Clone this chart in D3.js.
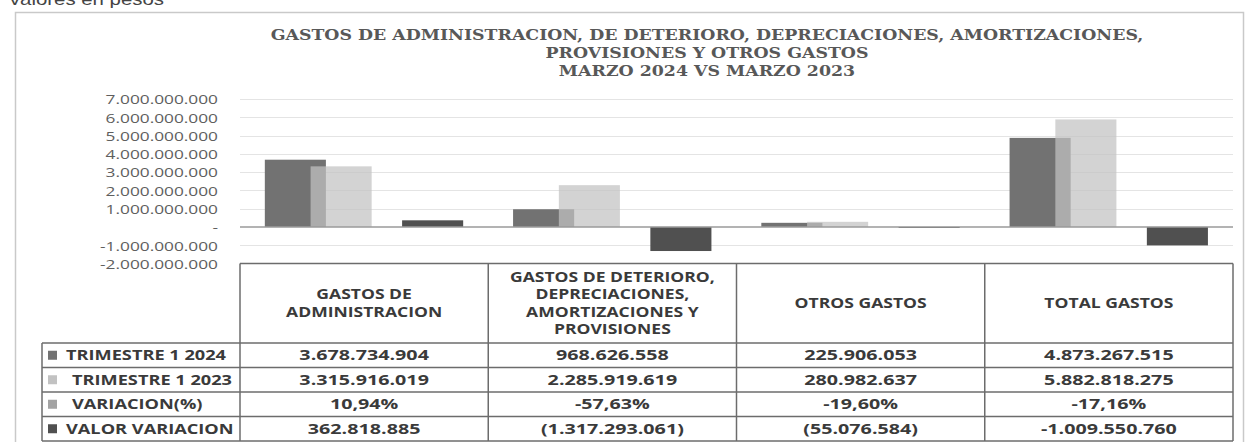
<!DOCTYPE html>
<html>
<head>
<meta charset="utf-8">
<script src="https://cdn.jsdelivr.net/npm/d3@7"></script>
<style>
  html, body { margin: 0; padding: 0; background: #fff; }
  svg { display: block; }
</style>
</head>
<body>
<div id="chart"></div>
<script>
'use strict';

// categories (header text split on lines as in the table)
var categories = [
	['GASTOS DE', 'ADMINISTRACION'],
	['GASTOS DE DETERIORO,', 'DEPRECIACIONES,', 'AMORTIZACIONES Y', 'PROVISIONES'],
	['OTROS GASTOS'],
	['TOTAL GASTOS']
];
var seriesNames = ['TRIMESTRE 1 2024', 'TRIMESTRE 1 2023', 'VARIACION(%)', 'VALOR VARIACION'];

var trimestre2024 = [3678734904, 968626558, 225906053, 4873267515];
var trimestre2023 = [3315916019, 2285919619, 280982637, 5882818275];
var variacionPct = [0.1094, -0.5763, -0.1960, -0.1716];
var valorVariacion = [362818885, -1317293061, -55076584, -1009550760];
var parenNegative = [true, true, true, false];

var yTicks = [-2e9, -1e9, 0, 1e9, 2e9, 3e9, 4e9, 5e9, 6e9, 7e9];

var seriesColors = ['#727272', '#c2c2c2', '#a3a3a3', '#505050'];

var W = 1255, H = 442;
var plot = {left: 240, right: 1233, top: 99, bottom: 263.5};
var tableBottom = 441;

var locale = d3.formatLocale({decimal: ',', thousands: '.', grouping: [3], currency: ['$', ''], minus: '-'});
var fmtInt = locale.format(',.0f');
var fmtPct = locale.format('.2%');

var svg = d3.select('#chart').append('svg')
	.attr('width', W)
	.attr('height', H);

svg.append('rect').attr('width', W).attr('height', H).attr('fill', '#fff');

function place(sel, x, y, k){
	return sel.attr('transform', 'translate(' + x + ',' + y + ') scale(' + k + ',1)');
}

// caption cut at the top
place(svg.append('text'), 8, 5, 1.2)
	.attr('font-family', 'Liberation Sans, Arial, sans-serif')
	.attr('font-size', 17)
	.attr('fill', '#444')
	.text('Valores en pesos');

// chart frame
svg.append('rect')
	.attr('x', 15.5).attr('y', 12.5)
	.attr('width', 1228).attr('height', 460)
	.attr('fill', 'none')
	.attr('stroke', '#c9c9c9')
	.attr('stroke-width', 1.5);

// title
var titleLines = ['GASTOS DE ADMINISTRACION, DE DETERIORO, DEPRECIACIONES, AMORTIZACIONES,', 'PROVISIONES Y OTROS GASTOS', 'MARZO 2024 VS MARZO 2023'];
titleLines.forEach(function(t, i){
	place(svg.append('text'), 707, 40 + i * 18, 1.24)
		.attr('text-anchor', 'middle')
		.attr('font-family', 'DejaVu Serif, serif')
		.attr('font-weight', 'bold')
		.attr('font-size', 14)
		.attr('fill', '#585858')
		.text(t);
});

var x = d3.scaleBand()
	.domain(d3.range(categories.length))
	.range([plot.left, plot.right]);

var bw = x.bandwidth();
var xs = d3.scalePoint()
	.domain(d3.range(seriesNames.length))
	.range([bw * 0.1, bw * 0.653]);
var barW = bw * 0.246;

var y = d3.scaleLinear()
	.domain([-2e9, 7e9])
	.range([plot.bottom, plot.top]);

// grid
svg.append('g').selectAll('line')
	.data(yTicks.filter(function(d){ return d !== 0 && d !== -2e9; }))
	.enter().append('line')
	.attr('x1', plot.left).attr('x2', plot.right)
	.attr('y1', function(d){ return Math.round(y(d)) + 0.5; })
	.attr('y2', function(d){ return Math.round(y(d)) + 0.5; })
	.attr('stroke', '#e4e4e4');

// y labels
var yAxis = d3.axisLeft(y)
	.tickValues(yTicks)
	.tickSize(0)
	.tickFormat(function(d){ return d === 0 ? '-' : fmtInt(d); });

var ya = svg.append('g')
	.attr('transform', 'translate(218,0)')
	.call(yAxis);
ya.select('.domain').remove();
ya.selectAll('text')
	.attr('x', 0)
	.attr('dy', '0.36em')
	.attr('transform', 'scale(1.28,1)')
	.attr('font-family', 'Open Sans, sans-serif')
	.attr('font-size', 13.5)
	.attr('fill', '#5e5e5e');

// bars
var seriesData = [trimestre2024, trimestre2023, variacionPct, valorVariacion];
seriesData.forEach(function(vals, s){
	svg.append('g')
		.attr('class', 'series-' + s)
		.selectAll('rect')
		.data(vals)
		.enter().append('rect')
		.attr('x', function(d, i){ return x(i) + xs(s); })
		.attr('width', barW)
		.attr('y', function(d){ return Math.min(y(d), y(0)); })
		.attr('height', function(d){ return Math.abs(y(d) - y(0)); })
		.attr('fill', seriesColors[s])
		.attr('fill-opacity', s === 1 ? 0.72 : 1);
});

// zero line
svg.append('line')
	.attr('x1', plot.left).attr('x2', plot.right)
	.attr('y1', y(0)).attr('y2', y(0))
	.attr('stroke', '#9a9a9a')
	.attr('stroke-width', 1.5);

// data table
var headerBottom = 343;
var row = d3.scaleBand()
	.domain(d3.range(seriesNames.length))
	.range([headerBottom, tableBottom]);

var tbl = svg.append('g')
	.attr('stroke', '#6c6c6c')
	.attr('stroke-width', 1.5);

tbl.append('line')
	.attr('x1', plot.left).attr('x2', plot.right)
	.attr('y1', plot.bottom).attr('y2', plot.bottom);

tbl.selectAll('line.v')
	.data(d3.range(categories.length + 1))
	.enter().append('line')
	.attr('class', 'v')
	.attr('x1', function(i){ return i < categories.length ? x(i) : plot.right; })
	.attr('x2', function(i){ return i < categories.length ? x(i) : plot.right; })
	.attr('y1', plot.bottom).attr('y2', tableBottom);

tbl.selectAll('line.h')
	.data(d3.range(seriesNames.length + 1))
	.enter().append('line')
	.attr('class', 'h')
	.attr('x1', 42).attr('x2', plot.right)
	.attr('y1', function(i){ return headerBottom + i * row.step(); })
	.attr('y2', function(i){ return headerBottom + i * row.step(); });

tbl.append('line')
	.attr('x1', 42).attr('x2', 42)
	.attr('y1', headerBottom).attr('y2', tableBottom);

var tableFont = 'Open Sans, sans-serif';
var tableK = 1.3;

// headers
categories.forEach(function(lines, i){
	var cy = (plot.bottom + headerBottom) / 2;
	var lh = 17.5;
	lines.forEach(function(t, j){
		place(svg.append('text'), x(i) + bw / 2, cy + (j - (lines.length - 1) / 2) * lh, tableK)
			.attr('text-anchor', 'middle')
			.attr('dy', '0.36em')
			.attr('font-family', tableFont)
			.attr('font-weight', 'bold')
			.attr('font-size', 13.5)
			.attr('fill', '#3a3a3a')
			.text(t);
	});
});

// legend column
var labelIndent = [66, 72, 72, 66];
seriesNames.forEach(function(name, s){
	var cy = row(s) + row.bandwidth() / 2;
	svg.append('rect')
		.attr('x', 48).attr('y', cy - 4.5)
		.attr('width', 9).attr('height', 9)
		.attr('fill', seriesColors[s]);
	place(svg.append('text'), labelIndent[s], cy, tableK)
		.attr('dy', '0.36em')
		.attr('font-family', tableFont)
		.attr('font-weight', 'bold')
		.attr('font-size', 14)
		.attr('fill', '#3a3a3a')
		.text(name);
});

// cells
function cellText(s, i){
	var v = seriesData[s][i];
	if (s === 2) return fmtPct(v);
	if (v < 0 && parenNegative[i]) return '(' + fmtInt(-v) + ')';
	return fmtInt(v);
}

seriesData.forEach(function(vals, s){
	vals.forEach(function(v, i){
		place(svg.append('text'), x(i) + bw / 2, row(s) + row.bandwidth() / 2, 1.36)
			.attr('text-anchor', 'middle')
			.attr('dy', '0.36em')
			.attr('font-family', tableFont)
			.attr('font-weight', 'bold')
			.attr('font-size', 14.5)
			.attr('fill', '#3a3a3a')
			.text(cellText(s, i));
	});
});
</script>
</body>
</html>
